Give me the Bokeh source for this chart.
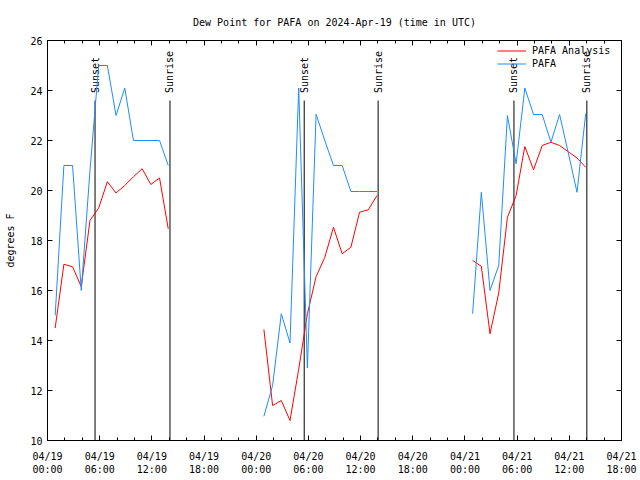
import numpy as np
import pandas as pd
from math import pi
from bokeh.plotting import figure
from bokeh.models import (Range1d, FixedTicker, DatetimeAxis, LinearAxis, Legend, LegendItem)
from bokeh.core.properties import value
from bokeh.embed import file_html
from bokeh.resources import INLINE

# ---- data (UTC, hourly reports at :53 past the hour, three daytime blocks) ----
block_starts = ["2024-04-19 00:53", "2024-04-20 00:53", "2024-04-21 00:53"]

analysis_d1 = [14.5, 17.05, 16.95, 16.15, 18.8, 19.3, 20.35, 19.9, 20.2, 20.55, 20.87, 20.24, 20.5, 18.47]
analysis_d2 = [14.44, 11.4, 11.6, 10.8, 12.85, 15.07, 16.55, 17.33, 18.53, 17.47, 17.73, 19.13, 19.23, 19.8]
analysis_d3 = [17.2, 16.97, 14.27, 15.9, 18.93, 19.8, 21.76, 20.83, 21.8, 21.93, 21.8, 21.55, 21.3, 20.93]

obs_d1 = [15.0, 21.0, 21.0, 16.0, 20.8, 25.0, 25.0, 23.0, 24.1, 22.0, 22.0, 22.0, 22.0, 21.0]
obs_d2 = [10.97, 12.2, 15.07, 13.9, 24.1, 12.9, 23.05, 22.0, 21.0, 21.0, 19.96, 19.96, 19.96, 19.96]
obs_d3 = [15.07, 19.93, 16.0, 17.0, 23.0, 21.07, 24.1, 23.04, 23.04, 21.93, 23.04, 21.5, 19.93, 23.07]

sunset_times = ["2024-04-19 05:28", "2024-04-20 05:31", "2024-04-21 05:38"]
sunrise_times = ["2024-04-19 14:05", "2024-04-20 14:01", "2024-04-21 14:01"]

x_start, x_end = "2024-04-19 00:00", "2024-04-21 18:00"
y_ticks = [10, 12, 14, 16, 18, 20, 22, 24, 26]

FONT = "DejaVu Sans Mono"


def build(blocks):
    xs, ys = [], []
    for start, vals in zip(block_starts, blocks):
        t = pd.date_range(start, periods=len(vals), freq="h")
        xs.extend(list(t.values))
        ys.extend(vals)
        xs.append((t[-1] + pd.Timedelta(minutes=30)).to_datetime64())
        ys.append(np.nan)
    return np.array(xs, dtype="datetime64[ms]"), np.array(ys, dtype=float)


ana_x, ana_y = build([analysis_d1, analysis_d2, analysis_d3])
obs_x, obs_y = build([obs_d1, obs_d2, obs_d3])

major = pd.date_range(x_start, x_end, freq="6h")
minor = pd.date_range(x_start, x_end, freq="2h")
to_ms = lambda idx: [float(v) for v in (idx.values.astype("datetime64[ms]").astype("int64"))]
major_ms = to_ms(major)
minor_ms = to_ms(minor)
overrides = {ms: ts.strftime("%m/%d\n%H:%M") for ms, ts in zip(major_ms, major)}

p = figure(width=640, height=480, x_axis_type="datetime",
           x_range=Range1d(pd.Timestamp(x_start), pd.Timestamp(x_end)),
           y_range=Range1d(10, 26),
           output_backend="svg", toolbar_location=None,
           min_border_left=47, min_border_right=19, min_border_top=40, min_border_bottom=40)

p.title.text = "Dew Point for PAFA on 2024-Apr-19 (time in UTC)"
p.title.align = "center"
p.title.text_font = FONT
p.title.text_font_size = "10px"
p.title.text_font_style = "normal"
p.title.text_color = "black"
p.title.standoff = 26

p.xgrid.grid_line_color = None
p.ygrid.grid_line_color = None
p.outline_line_color = "black"
p.outline_line_alpha = 1.0

xt = FixedTicker(ticks=major_ms, minor_ticks=minor_ms)
yt = FixedTicker(ticks=y_ticks, minor_ticks=[])

for ax in p.xaxis:
    ax.ticker = xt
    ax.major_label_overrides = overrides
    ax.major_tick_in = 5
    ax.major_tick_out = 0
    ax.minor_tick_in = 3
    ax.minor_tick_out = 0
    ax.major_label_standoff = 10
    ax.major_label_text_font = FONT
    ax.major_label_text_font_size = "10px"
    ax.major_label_text_color = "black"
    ax.axis_line_color = "black"

for ax in p.yaxis:
    ax.ticker = yt
    ax.major_tick_in = 5
    ax.major_tick_out = 0
    ax.minor_tick_line_color = None
    ax.major_label_standoff = 5
    ax.major_label_text_font = FONT
    ax.major_label_text_font_size = "10px"
    ax.major_label_text_color = "black"
    ax.axis_label = "degrees F"
    ax.axis_label_text_font = FONT
    ax.axis_label_text_font_size = "10px"
    ax.axis_label_text_font_style = "normal"
    ax.axis_label_text_color = "black"
    ax.axis_label_standoff = 11

top_ax = DatetimeAxis(ticker=xt, major_tick_in=5, major_tick_out=0, minor_tick_in=3, minor_tick_out=0,
                      major_label_overrides={ms: "" for ms in major_ms}, major_label_standoff=0)
right_ax = LinearAxis(ticker=yt, major_tick_in=5, major_tick_out=0, minor_tick_line_color=None,
                      major_label_overrides={v: "" for v in y_ticks}, major_label_standoff=0)
p.add_layout(top_ax, "above")
p.add_layout(right_ax, "right")

# sunset / sunrise markers
sun_x = pd.to_datetime(sunset_times + sunrise_times)
sun_lbl = ["Sunset"] * len(sunset_times) + ["Sunrise"] * len(sunrise_times)
p.segment(x0=sun_x, y0=10, x1=sun_x, y1=23.6, line_color="black", line_width=1)
p.text(x=sun_x, y=23.9, text=sun_lbl, angle=pi / 2, text_align="left", text_baseline="middle",
       text_font=value(FONT), text_font_size="10px", text_color="black")

r_ana = p.line(ana_x, ana_y, line_color="#ff0000", line_width=1)
r_obs = p.line(obs_x, obs_y, line_color="#1e8cff", line_width=1)

legend = Legend(items=[LegendItem(label="PAFA Analysis", renderers=[r_ana]),
                       LegendItem(label="PAFA", renderers=[r_obs])],
                location=(450, 370), background_fill_alpha=0, border_line_color=None,
                label_text_font=FONT, label_text_font_size="10px", label_text_color="black",
                glyph_width=29, glyph_height=13, label_height=13, label_standoff=6,
                padding=0, spacing=0, margin=0)
p.add_layout(legend)

open("out.html", "w").write(file_html(p, INLINE))
